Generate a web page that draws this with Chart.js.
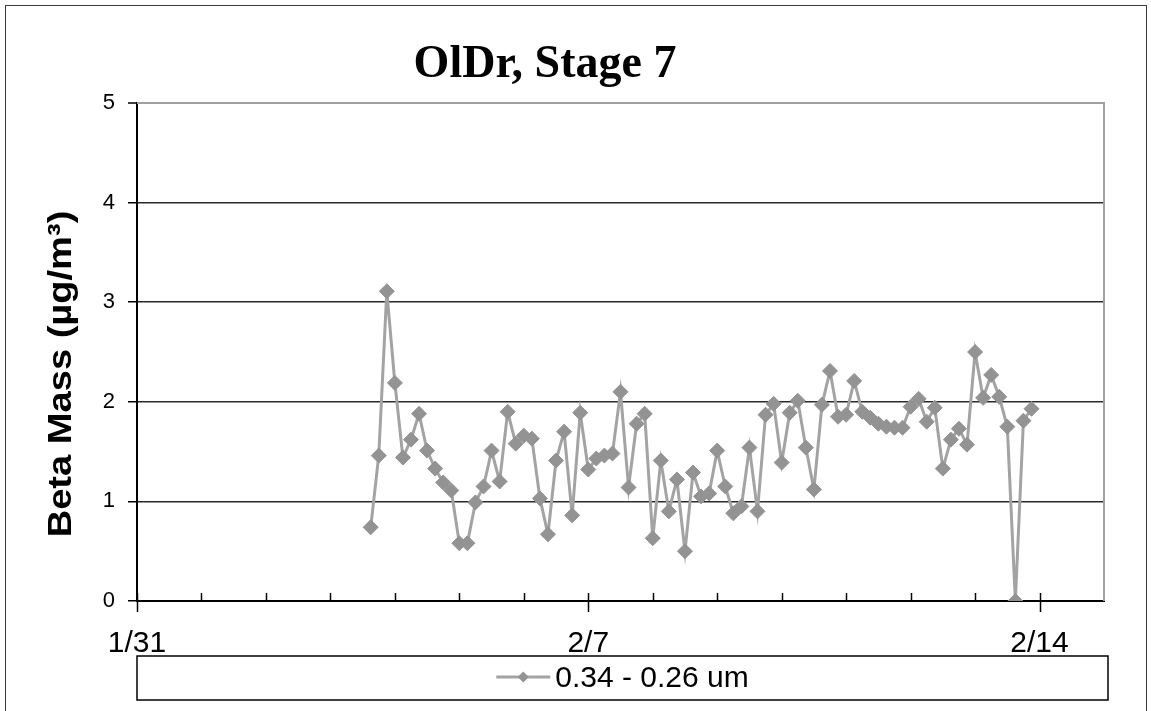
<!DOCTYPE html>
<html>
<head>
<meta charset="utf-8">
<script src="https://cdn.jsdelivr.net/npm/chart.js@4.4.1/dist/chart.umd.min.js"></script>
<style>
  html, body { margin: 0; padding: 0; background: #fff; overflow: hidden; }
  #wrap { position: relative; width: 1151px; height: 711px; }
  #frame { position: absolute; left: 5px; top: 5px; width: 1140px; height: 720px; border: 1.5px solid #3c3c3c; }
  canvas { position: absolute; left: 0; top: 0; }
</style>
</head>
<body>
<div id="wrap">
  <div id="frame"></div>
  <canvas id="myChart" width="1151" height="711"></canvas>
</div>
<script>
var chartTitle = 'OlDr, Stage 7';
var yTitle = 'Beta Mass (µg/m³)';
var seriesName = '0.34 - 0.26 um';

// x = days after 1/31 00:00, one sample every 3 h from 2/3 15:00
var firstSampleDay = 3.625;
var sampleStepDays = 0.125;
var betaMass = [
  0.74, 1.46, 3.11, 2.19, 1.44, 1.62, 1.88, 1.51, 1.33, 1.19,
  1.11, 0.58, 0.58, 0.99, 1.15, 1.51, 1.20, 1.90, 1.58, 1.66,
  1.63, 1.03, 0.67, 1.41, 1.70, 0.86, 1.89, 1.32, 1.43, 1.46,
  1.48, 2.10, 1.14, 1.78, 1.88, 0.63, 1.41, 0.90, 1.22, 0.50,
  1.29, 1.05, 1.08, 1.51, 1.15, 0.88, 0.95, 1.54, 0.90, 1.87,
  1.98, 1.39, 1.89, 2.01, 1.54, 1.12, 1.97, 2.31, 1.85, 1.87,
  2.21, 1.90, 1.84, 1.78, 1.75, 1.74, 1.74, 1.95, 2.03, 1.80,
  1.94, 1.33, 1.62, 1.73, 1.57, 2.50, 2.04, 2.27, 2.05, 1.75,
  0.00, 1.81, 1.93
];

var xTickDays = [0, 7, 14];
var xTickLabels = ['1/31', '2/7', '2/14'];
var xMin = 0, xMax = 15;
var yMin = 0, yMax = 5, yStep = 1;

var lineColor = '#a3a3a3';
var markerColor = '#939393';

var points = betaMass.map(function(v, i) {
    return { x: firstSampleDay + i * sampleStepDays, y: v };
});

// frame, day tick marks, title, rotated axis title and boxed legend
var decor = {
    id: 'decor',
    beforeDatasetsDraw: function(chart) {
        var c = chart.ctx, a = chart.chartArea, xs = chart.scales.x;
        c.save();
        c.strokeStyle = '#a0a0a0';
        c.lineWidth = 2;
        c.beginPath();
        c.moveTo(a.left, a.top);
        c.lineTo(a.right, a.top);
        c.lineTo(a.right, a.bottom);
        c.stroke();

        c.strokeStyle = '#000';
        c.lineWidth = 1.5;
        for (var d = xMin; d < xMax; d++) {
            var px = Math.round(xs.getPixelForValue(d)) + 0.5;
            var major = xTickDays.indexOf(d) >= 0;
            c.beginPath();
            c.moveTo(px, a.bottom - 8);
            c.lineTo(px, a.bottom + (major ? 11 : 0));
            c.stroke();
        }
        c.restore();
    },
    afterDraw: function(chart) {
        var c = chart.ctx, a = chart.chartArea;
        c.save();
        c.fillStyle = '#000';

        c.font = 'bold 46px "Liberation Serif"';
        c.textAlign = 'center';
        c.textBaseline = 'alphabetic';
        c.fillText(chartTitle, 545, 77);

        c.save();
        c.translate(71, 374);
        c.rotate(-Math.PI / 2);
        c.scale(1.12, 1);
        c.font = 'bold 34px "Liberation Sans"';
        c.fillText(yTitle, 0, 0);
        c.restore();

        // legend box
        var bl = a.left, br = a.right + 4, bt = a.bottom + 55, bb = bt + 44;
        c.strokeStyle = '#000';
        c.lineWidth = 1.5;
        c.strokeRect(bl, bt, br - bl, bb - bt);
        c.font = '30px "Liberation Sans"';
        var tw = c.measureText(seriesName).width;
        var lineLen = 54, gap = 5;
        var sx = (bl + br) / 2 - (lineLen + gap + tw) / 2;
        var ly = bt + 21;
        c.strokeStyle = lineColor;
        c.lineWidth = 3;
        c.beginPath();
        c.moveTo(sx, ly);
        c.lineTo(sx + lineLen, ly);
        c.stroke();
        var mx = sx + lineLen / 2, r = 5.5;
        c.fillStyle = markerColor;
        c.beginPath();
        c.moveTo(mx - r, ly); c.lineTo(mx, ly - r); c.lineTo(mx + r, ly); c.lineTo(mx, ly + r);
        c.closePath();
        c.fill();
        c.fillStyle = '#000';
        c.textAlign = 'left';
        c.fillText(seriesName, sx + lineLen + gap, bt + 31);
        c.restore();
    }
};

var ctx = document.getElementById('myChart');
var myChart = new Chart(ctx, {
    type: 'line',
    data: {
        datasets: [{
            label: seriesName,
            data: points,
            borderColor: lineColor,
            backgroundColor: markerColor,
            pointBorderColor: markerColor,
            borderWidth: 3,
            pointStyle: 'rectRot',
            pointRadius: 7.5,
            pointBorderWidth: 1,
            pointHoverRadius: 7.5,
            tension: 0,
            fill: false
        }]
    },
    options: {
        responsive: false,
        animation: false,
        devicePixelRatio: 1,
        layout: {
            padding: { left: 0, top: 103, right: 47, bottom: 50 }
        },
        plugins: {
            legend: { display: false },
            title: { display: false },
            tooltip: { enabled: false }
        },
        scales: {
            x: {
                type: 'linear',
                min: xMin,
                max: xMax,
                afterFit: function(scale) { scale.height = 60; },
                grid: { display: false },
                border: { display: true, color: '#000', width: 2 },
                ticks: {
                    stepSize: 1,
                    autoSkip: false,
                    maxRotation: 0,
                    padding: 17,
                    color: '#000',
                    font: { family: 'Liberation Sans', size: 30 },
                    callback: function(v) {
                        var k = xTickDays.indexOf(v);
                        return k >= 0 ? xTickLabels[k] : '';
                    }
                }
            },
            y: {
                min: yMin,
                max: yMax,
                afterFit: function(scale) { scale.width = 137; },
                grid: {
                    color: function(c) { return c.tick && c.tick.value === yMax ? '#a0a0a0' : '#2a2a2a'; },
                    lineWidth: function(c) { return c.tick && c.tick.value === yMax ? 2 : 1.5; },
                    tickColor: '#000',
                    tickWidth: 1.5,
                    tickLength: 9
                },
                border: { color: '#000', width: 2 },
                ticks: {
                    stepSize: yStep,
                    padding: 13,
                    color: '#000',
                    font: { family: 'Liberation Sans', size: 22 }
                }
            }
        }
    },
    plugins: [decor]
});
</script>
</body>
</html>
